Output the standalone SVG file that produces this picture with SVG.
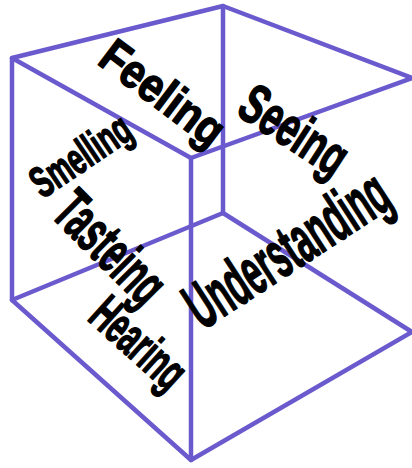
<svg xmlns="http://www.w3.org/2000/svg" width="412" height="468" viewBox="0 0 412 468">
<style>
.e{stroke:#6a5acd;stroke-width:4.5;fill:none;stroke-linecap:round;stroke-linejoin:round}
.t{font-family:"Liberation Sans",Arial,sans-serif;font-weight:bold;fill:#000;stroke:#000;stroke-width:1.5;stroke-linejoin:round;text-anchor:middle}
</style>
<rect width="412" height="468" fill="#fff"/>
<g id="connectors">
<path class="e" d="M12,58 L223,6 L412,78 L191,158 Z"/>
<path class="e" d="M12,58 L12,300 L191,460 L412,332"/>
<path class="e" d="M191,158 L191,460"/>
<path class="e" d="M223,6 L223,213"/>
<path class="e" d="M12,300 L223,213 L412,332"/>
</g>
<g id="feeling"><text class="t" transform="translate(153,106) rotate(37)" font-size="48" textLength="143" lengthAdjust="spacingAndGlyphs">Feeling</text></g>
<g id="seeing"><text class="t" transform="translate(284,146) rotate(33)" font-size="56" textLength="118" lengthAdjust="spacingAndGlyphs">Seeing</text></g>
<g id="smelling"><text class="t" transform="translate(89,168) rotate(-34)" font-size="44" textLength="112" lengthAdjust="spacingAndGlyphs">Smelling</text></g>
<g id="tasteing"><text class="t" transform="translate(96,262) rotate(45)" font-size="60" textLength="132" lengthAdjust="spacingAndGlyphs">Tasteing</text></g>
<g id="hearing"><text class="t" transform="translate(127,356) rotate(42)" font-size="52" textLength="110" lengthAdjust="spacingAndGlyphs">Hearing</text></g>
<g id="understanding"><text class="t" transform="translate(299,268) rotate(-33)" font-size="66" textLength="230" lengthAdjust="spacingAndGlyphs">Understanding</text></g>
</svg>
